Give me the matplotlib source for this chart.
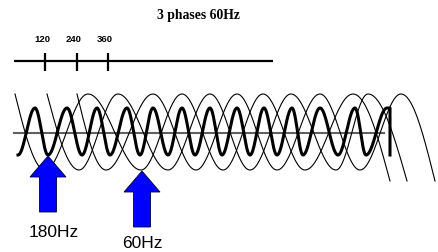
import numpy as np
import matplotlib
matplotlib.use("Agg")
import matplotlib.pyplot as plt
from matplotlib.patches import FancyArrow

# ---------------- data (pixel-like units) ----------------
title = "3 phases 60Hz"
scale_degrees = [120, 240, 360]          # tick marks on the phase scale
scale_labels = ["120", "240", "360"]
scale_origin = 14                        # x of 0 degrees
scale_360 = 108                          # x of 360 degrees
scale_end = 273                          # right end of the scale line

# thin phase waves: start (at crest level), alternating trough/crest x positions, end x
phase_a = [15, 45, 88, 141, 182, 223, 263, 305, 353, 390]
phase_b = [47, 79, 118, 168, 210, 250, 291, 336, 368, 407]
phase_c = [77, 106, 153, 196, 237, 277, 320, 360, 401, 435]
thin_top, thin_bottom, thin_end_level = 95, 171, 182

# thick ripple wave: trough/crest x positions starting with a trough
ripple = [18, 35, 48, 67, 82, 97, 110, 127, 140, 153, 168, 182, 195, 210,
          222, 237, 250, 264, 277, 292, 303, 320, 338, 355, 366, 387]
ripple_top, ripple_bottom = 109, 156
ripple_end_x = 390

axis_y, axis_x0, axis_x1 = 134, 14, 384

arrow_labels = ["180Hz", "60Hz"]

# ---------------- helpers ----------------
def seg(x0, y0, x1, y1, kind="half", n=40):
    t = np.linspace(0, 1, n)
    x = x0 + (x1 - x0) * t
    if kind == "half":
        y = (y0 + y1) / 2 + (y0 - y1) / 2 * np.cos(np.pi * t)
    elif kind == "start":
        y = y0 + (y1 - y0) * np.sin(t * np.pi / 2)
    else:  # end
        y = y0 + (y1 - y0) * (1 - np.cos(t * np.pi / 2))
    return x, y

def thin_wave(xs):
    X, Y = [], []
    levels = [thin_top]
    for i in range(1, len(xs) - 1):
        levels.append(thin_bottom if i % 2 == 1 else thin_top)
    levels.append(thin_end_level)
    for i in range(len(xs) - 1):
        kind = "start" if i == 0 else ("end" if i == len(xs) - 2 else "half")
        x, y = seg(xs[i], levels[i], xs[i + 1], levels[i + 1], kind)
        X.extend(x); Y.extend(y)
    return X, Y

def ripple_wave(xs):
    X, Y = [], []
    levels = [ripple_bottom if i % 2 == 0 else ripple_top for i in range(len(xs))]
    for i in range(len(xs) - 1):
        x, y = seg(xs[i], levels[i], xs[i + 1], levels[i + 1], "half")
        X.extend(x); Y.extend(y)
    X += [ripple_end_x, ripple_end_x]
    Y += [ripple_top, ripple_bottom]
    return X, Y

def deg_to_x(d):
    return scale_origin + (scale_360 - scale_origin) * d / 360.0

# ---------------- figure ----------------
fig = plt.figure(figsize=(4.38, 2.53), dpi=100)
ax = fig.add_axes([0, 0, 1, 1])
ax.set_xlim(0, 438)
ax.set_ylim(253, 0)
ax.axis("off")

# title
ax.text(198, 15, title, ha="center", va="center", fontsize=9.8,
        family="Liberation Serif", fontweight="bold")

# phase scale
ax.plot([scale_origin, scale_end], [62, 62], color="black", lw=1.6, solid_capstyle="butt")
for d, lab in zip(scale_degrees, scale_labels):
    x = deg_to_x(d)
    ax.plot([x, x], [54, 72], color="black", lw=1.6, solid_capstyle="butt")
    ax.text(x - 3, 39, lab, ha="center", va="center", fontsize=6.8,
            family="Liberation Sans", fontweight="bold")

# zero axis
ax.plot([axis_x0, axis_x1], [axis_y, axis_y], color="#606060", lw=1.5, zorder=1)

# waves
for ph in (phase_a, phase_b, phase_c):
    X, Y = thin_wave(ph)
    ax.plot(X, Y, color="black", lw=0.8, zorder=2)
X, Y = ripple_wave(ripple)
ax.plot(X, Y, color="black", lw=2.2, zorder=3, solid_joinstyle="round")

# arrows pointing at troughs
tips = [(ripple[2], ripple_bottom + 1), (phase_a[3] + 1, thin_bottom + 1)]
arrow_len = [56, 56]
label_dx = [6, 0]
label_dy = [20, 16]
for (tx, ty), L, lab, dx, dy in zip(tips, arrow_len, arrow_labels, label_dx, label_dy):
    ar = FancyArrow(tx, ty + L, 0, -L, width=17, head_width=36, head_length=21,
                    length_includes_head=True, facecolor="#0000ff",
                    edgecolor="#000030", lw=0.6, zorder=4)
    ax.add_patch(ar)
    ax.text(tx + dx, ty + L + dy, lab, ha="center", va="center",
            fontsize=12.5, family="Liberation Sans")

fig.savefig("out.png", dpi=100)
